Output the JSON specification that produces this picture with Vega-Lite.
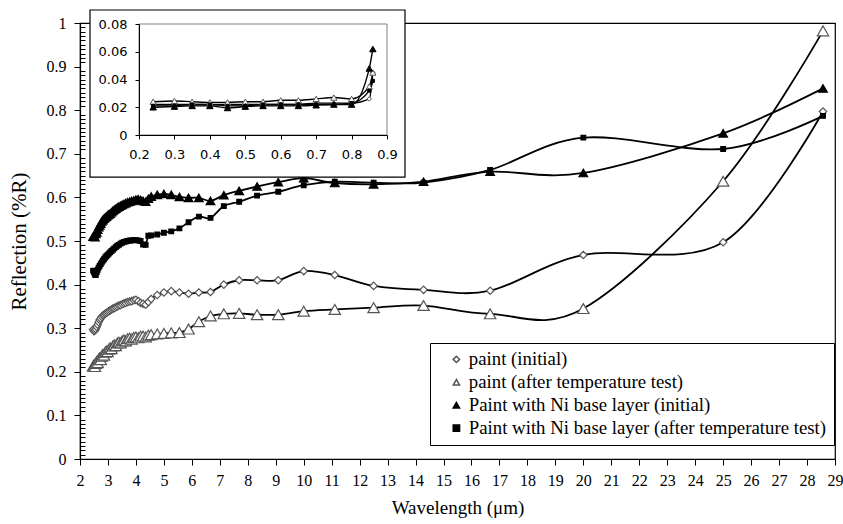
{
"$schema": "https://vega.github.io/schema/vega-lite/v6.json",
"width": 755, "height": 436,
"autosize": {"type": "none"},
"padding": {"left": 80, "top": 23, "right": 8, "bottom": 65},
"background": "white",
"config": {
  "view": {"stroke": "black", "strokeWidth": 1.2},
  "axis": {"domainColor": "black", "tickColor": "black", "labelColor": "black", "titleColor": "black", "grid": false, "domainWidth": 1.2, "tickWidth": 1}
},
"datasets": {
"main": [
{"s":"paint (initial)","w":2.469,"R":0.297},{"s":"paint (initial)","w":2.5,"R":0.293},{"s":"paint (initial)","w":2.532,"R":0.295},{"s":"paint (initial)","w":2.564,"R":0.298},{"s":"paint (initial)","w":2.597,"R":0.303},{"s":"paint (initial)","w":2.632,"R":0.308},{"s":"paint (initial)","w":2.667,"R":0.314},{"s":"paint (initial)","w":2.703,"R":0.319},{"s":"paint (initial)","w":2.74,"R":0.322},{"s":"paint (initial)","w":2.778,"R":0.326},{"s":"paint (initial)","w":2.817,"R":0.329},{"s":"paint (initial)","w":2.857,"R":0.331},{"s":"paint (initial)","w":2.899,"R":0.333},{"s":"paint (initial)","w":2.941,"R":0.335},{"s":"paint (initial)","w":2.985,"R":0.337},{"s":"paint (initial)","w":3.03,"R":0.339},{"s":"paint (initial)","w":3.077,"R":0.341},{"s":"paint (initial)","w":3.125,"R":0.343},{"s":"paint (initial)","w":3.175,"R":0.345},{"s":"paint (initial)","w":3.226,"R":0.346},{"s":"paint (initial)","w":3.279,"R":0.348},{"s":"paint (initial)","w":3.333,"R":0.35},{"s":"paint (initial)","w":3.39,"R":0.352},{"s":"paint (initial)","w":3.448,"R":0.353},{"s":"paint (initial)","w":3.509,"R":0.355},{"s":"paint (initial)","w":3.571,"R":0.357},{"s":"paint (initial)","w":3.636,"R":0.358},{"s":"paint (initial)","w":3.704,"R":0.36},{"s":"paint (initial)","w":3.774,"R":0.361},{"s":"paint (initial)","w":3.846,"R":0.362},{"s":"paint (initial)","w":3.922,"R":0.364},{"s":"paint (initial)","w":4.0,"R":0.365},{"s":"paint (initial)","w":4.082,"R":0.362},{"s":"paint (initial)","w":4.167,"R":0.358},{"s":"paint (initial)","w":4.255,"R":0.356},{"s":"paint (initial)","w":4.348,"R":0.354},{"s":"paint (initial)","w":4.444,"R":0.36},{"s":"paint (initial)","w":4.545,"R":0.367},{"s":"paint (initial)","w":4.762,"R":0.376},{"s":"paint (initial)","w":5.0,"R":0.382},{"s":"paint (initial)","w":5.263,"R":0.385},{"s":"paint (initial)","w":5.556,"R":0.382},{"s":"paint (initial)","w":5.882,"R":0.379},{"s":"paint (initial)","w":6.25,"R":0.382},{"s":"paint (initial)","w":6.667,"R":0.383},{"s":"paint (initial)","w":7.143,"R":0.4},{"s":"paint (initial)","w":7.692,"R":0.41},{"s":"paint (initial)","w":8.333,"R":0.41},{"s":"paint (initial)","w":9.091,"R":0.41},{"s":"paint (initial)","w":10,"R":0.431},{"s":"paint (initial)","w":11.111,"R":0.422},{"s":"paint (initial)","w":12.5,"R":0.397},{"s":"paint (initial)","w":14.286,"R":0.388},{"s":"paint (initial)","w":16.667,"R":0.386},{"s":"paint (initial)","w":20,"R":0.468},{"s":"paint (initial)","w":25,"R":0.497},{"s":"paint (initial)","w":28.571,"R":0.797},
{"s":"paint (after temperature test)","w":2.469,"R":0.213},{"s":"paint (after temperature test)","w":2.5,"R":0.216},{"s":"paint (after temperature test)","w":2.532,"R":0.212},{"s":"paint (after temperature test)","w":2.564,"R":0.219},{"s":"paint (after temperature test)","w":2.597,"R":0.224},{"s":"paint (after temperature test)","w":2.632,"R":0.221},{"s":"paint (after temperature test)","w":2.667,"R":0.229},{"s":"paint (after temperature test)","w":2.703,"R":0.232},{"s":"paint (after temperature test)","w":2.74,"R":0.228},{"s":"paint (after temperature test)","w":2.778,"R":0.236},{"s":"paint (after temperature test)","w":2.817,"R":0.24},{"s":"paint (after temperature test)","w":2.857,"R":0.238},{"s":"paint (after temperature test)","w":2.899,"R":0.245},{"s":"paint (after temperature test)","w":2.941,"R":0.248},{"s":"paint (after temperature test)","w":2.985,"R":0.246},{"s":"paint (after temperature test)","w":3.03,"R":0.252},{"s":"paint (after temperature test)","w":3.077,"R":0.255},{"s":"paint (after temperature test)","w":3.125,"R":0.253},{"s":"paint (after temperature test)","w":3.175,"R":0.259},{"s":"paint (after temperature test)","w":3.226,"R":0.262},{"s":"paint (after temperature test)","w":3.279,"R":0.26},{"s":"paint (after temperature test)","w":3.333,"R":0.266},{"s":"paint (after temperature test)","w":3.39,"R":0.268},{"s":"paint (after temperature test)","w":3.448,"R":0.266},{"s":"paint (after temperature test)","w":3.509,"R":0.271},{"s":"paint (after temperature test)","w":3.571,"R":0.273},{"s":"paint (after temperature test)","w":3.636,"R":0.271},{"s":"paint (after temperature test)","w":3.704,"R":0.276},{"s":"paint (after temperature test)","w":3.774,"R":0.277},{"s":"paint (after temperature test)","w":3.846,"R":0.275},{"s":"paint (after temperature test)","w":3.922,"R":0.279},{"s":"paint (after temperature test)","w":4.0,"R":0.28},{"s":"paint (after temperature test)","w":4.082,"R":0.278},{"s":"paint (after temperature test)","w":4.167,"R":0.282},{"s":"paint (after temperature test)","w":4.255,"R":0.282},{"s":"paint (after temperature test)","w":4.348,"R":0.28},{"s":"paint (after temperature test)","w":4.444,"R":0.284},{"s":"paint (after temperature test)","w":4.545,"R":0.285},{"s":"paint (after temperature test)","w":4.762,"R":0.287},{"s":"paint (after temperature test)","w":5.0,"R":0.288},{"s":"paint (after temperature test)","w":5.263,"R":0.289},{"s":"paint (after temperature test)","w":5.556,"R":0.29},{"s":"paint (after temperature test)","w":5.882,"R":0.298},{"s":"paint (after temperature test)","w":6.25,"R":0.315},{"s":"paint (after temperature test)","w":6.667,"R":0.328},{"s":"paint (after temperature test)","w":7.143,"R":0.333},{"s":"paint (after temperature test)","w":7.692,"R":0.334},{"s":"paint (after temperature test)","w":8.333,"R":0.331},{"s":"paint (after temperature test)","w":9.091,"R":0.331},{"s":"paint (after temperature test)","w":10,"R":0.339},{"s":"paint (after temperature test)","w":11.111,"R":0.343},{"s":"paint (after temperature test)","w":12.5,"R":0.347},{"s":"paint (after temperature test)","w":14.286,"R":0.352},{"s":"paint (after temperature test)","w":16.667,"R":0.333},{"s":"paint (after temperature test)","w":20,"R":0.345},{"s":"paint (after temperature test)","w":25,"R":0.637},{"s":"paint (after temperature test)","w":28.571,"R":0.982},
{"s":"Paint with Ni base layer (initial)","w":2.469,"R":0.51},{"s":"Paint with Ni base layer (initial)","w":2.5,"R":0.512},{"s":"Paint with Ni base layer (initial)","w":2.532,"R":0.509},{"s":"Paint with Ni base layer (initial)","w":2.564,"R":0.516},{"s":"Paint with Ni base layer (initial)","w":2.597,"R":0.52},{"s":"Paint with Ni base layer (initial)","w":2.632,"R":0.526},{"s":"Paint with Ni base layer (initial)","w":2.667,"R":0.532},{"s":"Paint with Ni base layer (initial)","w":2.703,"R":0.536},{"s":"Paint with Ni base layer (initial)","w":2.74,"R":0.54},{"s":"Paint with Ni base layer (initial)","w":2.778,"R":0.545},{"s":"Paint with Ni base layer (initial)","w":2.817,"R":0.548},{"s":"Paint with Ni base layer (initial)","w":2.857,"R":0.551},{"s":"Paint with Ni base layer (initial)","w":2.899,"R":0.554},{"s":"Paint with Ni base layer (initial)","w":2.941,"R":0.556},{"s":"Paint with Ni base layer (initial)","w":2.985,"R":0.559},{"s":"Paint with Ni base layer (initial)","w":3.03,"R":0.561},{"s":"Paint with Ni base layer (initial)","w":3.077,"R":0.563},{"s":"Paint with Ni base layer (initial)","w":3.125,"R":0.566},{"s":"Paint with Ni base layer (initial)","w":3.175,"R":0.569},{"s":"Paint with Ni base layer (initial)","w":3.226,"R":0.572},{"s":"Paint with Ni base layer (initial)","w":3.279,"R":0.574},{"s":"Paint with Ni base layer (initial)","w":3.333,"R":0.577},{"s":"Paint with Ni base layer (initial)","w":3.39,"R":0.579},{"s":"Paint with Ni base layer (initial)","w":3.448,"R":0.581},{"s":"Paint with Ni base layer (initial)","w":3.509,"R":0.583},{"s":"Paint with Ni base layer (initial)","w":3.571,"R":0.585},{"s":"Paint with Ni base layer (initial)","w":3.636,"R":0.587},{"s":"Paint with Ni base layer (initial)","w":3.704,"R":0.589},{"s":"Paint with Ni base layer (initial)","w":3.774,"R":0.59},{"s":"Paint with Ni base layer (initial)","w":3.846,"R":0.592},{"s":"Paint with Ni base layer (initial)","w":3.922,"R":0.593},{"s":"Paint with Ni base layer (initial)","w":4.0,"R":0.595},{"s":"Paint with Ni base layer (initial)","w":4.082,"R":0.596},{"s":"Paint with Ni base layer (initial)","w":4.167,"R":0.594},{"s":"Paint with Ni base layer (initial)","w":4.255,"R":0.592},{"s":"Paint with Ni base layer (initial)","w":4.348,"R":0.59},{"s":"Paint with Ni base layer (initial)","w":4.444,"R":0.597},{"s":"Paint with Ni base layer (initial)","w":4.545,"R":0.602},{"s":"Paint with Ni base layer (initial)","w":4.762,"R":0.606},{"s":"Paint with Ni base layer (initial)","w":5.0,"R":0.608},{"s":"Paint with Ni base layer (initial)","w":5.263,"R":0.606},{"s":"Paint with Ni base layer (initial)","w":5.556,"R":0.601},{"s":"Paint with Ni base layer (initial)","w":5.882,"R":0.599},{"s":"Paint with Ni base layer (initial)","w":6.25,"R":0.599},{"s":"Paint with Ni base layer (initial)","w":6.667,"R":0.592},{"s":"Paint with Ni base layer (initial)","w":7.143,"R":0.605},{"s":"Paint with Ni base layer (initial)","w":7.692,"R":0.615},{"s":"Paint with Ni base layer (initial)","w":8.333,"R":0.625},{"s":"Paint with Ni base layer (initial)","w":9.091,"R":0.635},{"s":"Paint with Ni base layer (initial)","w":10,"R":0.644},{"s":"Paint with Ni base layer (initial)","w":11.111,"R":0.633},{"s":"Paint with Ni base layer (initial)","w":12.5,"R":0.63},{"s":"Paint with Ni base layer (initial)","w":14.286,"R":0.636},{"s":"Paint with Ni base layer (initial)","w":16.667,"R":0.659},{"s":"Paint with Ni base layer (initial)","w":20,"R":0.656},{"s":"Paint with Ni base layer (initial)","w":25,"R":0.747},{"s":"Paint with Ni base layer (initial)","w":28.571,"R":0.85},
{"s":"Paint with Ni base layer (after temperature test)","w":2.469,"R":0.432},{"s":"Paint with Ni base layer (after temperature test)","w":2.5,"R":0.428},{"s":"Paint with Ni base layer (after temperature test)","w":2.532,"R":0.423},{"s":"Paint with Ni base layer (after temperature test)","w":2.564,"R":0.422},{"s":"Paint with Ni base layer (after temperature test)","w":2.597,"R":0.428},{"s":"Paint with Ni base layer (after temperature test)","w":2.632,"R":0.434},{"s":"Paint with Ni base layer (after temperature test)","w":2.667,"R":0.439},{"s":"Paint with Ni base layer (after temperature test)","w":2.703,"R":0.443},{"s":"Paint with Ni base layer (after temperature test)","w":2.74,"R":0.447},{"s":"Paint with Ni base layer (after temperature test)","w":2.778,"R":0.451},{"s":"Paint with Ni base layer (after temperature test)","w":2.817,"R":0.455},{"s":"Paint with Ni base layer (after temperature test)","w":2.857,"R":0.458},{"s":"Paint with Ni base layer (after temperature test)","w":2.899,"R":0.462},{"s":"Paint with Ni base layer (after temperature test)","w":2.941,"R":0.465},{"s":"Paint with Ni base layer (after temperature test)","w":2.985,"R":0.468},{"s":"Paint with Ni base layer (after temperature test)","w":3.03,"R":0.471},{"s":"Paint with Ni base layer (after temperature test)","w":3.077,"R":0.474},{"s":"Paint with Ni base layer (after temperature test)","w":3.125,"R":0.477},{"s":"Paint with Ni base layer (after temperature test)","w":3.175,"R":0.48},{"s":"Paint with Ni base layer (after temperature test)","w":3.226,"R":0.483},{"s":"Paint with Ni base layer (after temperature test)","w":3.279,"R":0.486},{"s":"Paint with Ni base layer (after temperature test)","w":3.333,"R":0.489},{"s":"Paint with Ni base layer (after temperature test)","w":3.39,"R":0.491},{"s":"Paint with Ni base layer (after temperature test)","w":3.448,"R":0.494},{"s":"Paint with Ni base layer (after temperature test)","w":3.509,"R":0.496},{"s":"Paint with Ni base layer (after temperature test)","w":3.571,"R":0.498},{"s":"Paint with Ni base layer (after temperature test)","w":3.636,"R":0.499},{"s":"Paint with Ni base layer (after temperature test)","w":3.704,"R":0.5},{"s":"Paint with Ni base layer (after temperature test)","w":3.774,"R":0.501},{"s":"Paint with Ni base layer (after temperature test)","w":3.846,"R":0.501},{"s":"Paint with Ni base layer (after temperature test)","w":3.922,"R":0.502},{"s":"Paint with Ni base layer (after temperature test)","w":4.0,"R":0.502},{"s":"Paint with Ni base layer (after temperature test)","w":4.082,"R":0.501},{"s":"Paint with Ni base layer (after temperature test)","w":4.167,"R":0.5},{"s":"Paint with Ni base layer (after temperature test)","w":4.255,"R":0.492},{"s":"Paint with Ni base layer (after temperature test)","w":4.348,"R":0.491},{"s":"Paint with Ni base layer (after temperature test)","w":4.444,"R":0.512},{"s":"Paint with Ni base layer (after temperature test)","w":4.545,"R":0.513},{"s":"Paint with Ni base layer (after temperature test)","w":4.762,"R":0.515},{"s":"Paint with Ni base layer (after temperature test)","w":5.0,"R":0.519},{"s":"Paint with Ni base layer (after temperature test)","w":5.263,"R":0.522},{"s":"Paint with Ni base layer (after temperature test)","w":5.556,"R":0.529},{"s":"Paint with Ni base layer (after temperature test)","w":5.882,"R":0.543},{"s":"Paint with Ni base layer (after temperature test)","w":6.25,"R":0.556},{"s":"Paint with Ni base layer (after temperature test)","w":6.667,"R":0.553},{"s":"Paint with Ni base layer (after temperature test)","w":7.143,"R":0.58},{"s":"Paint with Ni base layer (after temperature test)","w":7.692,"R":0.59},{"s":"Paint with Ni base layer (after temperature test)","w":8.333,"R":0.604},{"s":"Paint with Ni base layer (after temperature test)","w":9.091,"R":0.613},{"s":"Paint with Ni base layer (after temperature test)","w":10,"R":0.628},{"s":"Paint with Ni base layer (after temperature test)","w":11.111,"R":0.636},{"s":"Paint with Ni base layer (after temperature test)","w":12.5,"R":0.634},{"s":"Paint with Ni base layer (after temperature test)","w":14.286,"R":0.634},{"s":"Paint with Ni base layer (after temperature test)","w":16.667,"R":0.663},{"s":"Paint with Ni base layer (after temperature test)","w":20,"R":0.737},{"s":"Paint with Ni base layer (after temperature test)","w":25,"R":0.711},{"s":"Paint with Ni base layer (after temperature test)","w":28.571,"R":0.787}
],
"inset": [
{"s":"paint (initial)","ix":0.24,"iR":0.022},{"s":"paint (initial)","ix":0.3,"iR":0.022},{"s":"paint (initial)","ix":0.35,"iR":0.022},{"s":"paint (initial)","ix":0.4,"iR":0.022},{"s":"paint (initial)","ix":0.45,"iR":0.022},{"s":"paint (initial)","ix":0.5,"iR":0.022},{"s":"paint (initial)","ix":0.55,"iR":0.022},{"s":"paint (initial)","ix":0.6,"iR":0.022},{"s":"paint (initial)","ix":0.65,"iR":0.022},{"s":"paint (initial)","ix":0.7,"iR":0.023},{"s":"paint (initial)","ix":0.75,"iR":0.023},{"s":"paint (initial)","ix":0.8,"iR":0.023},{"s":"paint (initial)","ix":0.85,"iR":0.026},{"s":"paint (initial)","ix":0.86,"iR":0.045},
{"s":"paint (after temperature test)","ix":0.24,"iR":0.024},{"s":"paint (after temperature test)","ix":0.3,"iR":0.0245},{"s":"paint (after temperature test)","ix":0.35,"iR":0.024},{"s":"paint (after temperature test)","ix":0.4,"iR":0.0235},{"s":"paint (after temperature test)","ix":0.45,"iR":0.0235},{"s":"paint (after temperature test)","ix":0.5,"iR":0.024},{"s":"paint (after temperature test)","ix":0.55,"iR":0.024},{"s":"paint (after temperature test)","ix":0.6,"iR":0.025},{"s":"paint (after temperature test)","ix":0.65,"iR":0.025},{"s":"paint (after temperature test)","ix":0.7,"iR":0.026},{"s":"paint (after temperature test)","ix":0.75,"iR":0.027},{"s":"paint (after temperature test)","ix":0.8,"iR":0.026},{"s":"paint (after temperature test)","ix":0.85,"iR":0.035},{"s":"paint (after temperature test)","ix":0.86,"iR":0.045},
{"s":"Paint with Ni base layer (initial)","ix":0.24,"iR":0.02},{"s":"Paint with Ni base layer (initial)","ix":0.3,"iR":0.0205},{"s":"Paint with Ni base layer (initial)","ix":0.35,"iR":0.021},{"s":"Paint with Ni base layer (initial)","ix":0.4,"iR":0.021},{"s":"Paint with Ni base layer (initial)","ix":0.45,"iR":0.0195},{"s":"Paint with Ni base layer (initial)","ix":0.5,"iR":0.0205},{"s":"Paint with Ni base layer (initial)","ix":0.55,"iR":0.021},{"s":"Paint with Ni base layer (initial)","ix":0.6,"iR":0.021},{"s":"Paint with Ni base layer (initial)","ix":0.65,"iR":0.021},{"s":"Paint with Ni base layer (initial)","ix":0.7,"iR":0.0215},{"s":"Paint with Ni base layer (initial)","ix":0.75,"iR":0.022},{"s":"Paint with Ni base layer (initial)","ix":0.8,"iR":0.022},{"s":"Paint with Ni base layer (initial)","ix":0.85,"iR":0.048},{"s":"Paint with Ni base layer (initial)","ix":0.86,"iR":0.062},
{"s":"Paint with Ni base layer (after temperature test)","ix":0.24,"iR":0.021},{"s":"Paint with Ni base layer (after temperature test)","ix":0.3,"iR":0.021},{"s":"Paint with Ni base layer (after temperature test)","ix":0.35,"iR":0.022},{"s":"Paint with Ni base layer (after temperature test)","ix":0.4,"iR":0.022},{"s":"Paint with Ni base layer (after temperature test)","ix":0.45,"iR":0.021},{"s":"Paint with Ni base layer (after temperature test)","ix":0.5,"iR":0.021},{"s":"Paint with Ni base layer (after temperature test)","ix":0.55,"iR":0.022},{"s":"Paint with Ni base layer (after temperature test)","ix":0.6,"iR":0.022},{"s":"Paint with Ni base layer (after temperature test)","ix":0.65,"iR":0.022},{"s":"Paint with Ni base layer (after temperature test)","ix":0.7,"iR":0.022},{"s":"Paint with Ni base layer (after temperature test)","ix":0.75,"iR":0.022},{"s":"Paint with Ni base layer (after temperature test)","ix":0.8,"iR":0.023},{"s":"Paint with Ni base layer (after temperature test)","ix":0.85,"iR":0.032},{"s":"Paint with Ni base layer (after temperature test)","ix":0.86,"iR":0.039}
]
},
"layer": [
{
  "data": {"name": "main"},
  "mark": {"type": "line", "interpolate": "cardinal", "color": "black", "strokeWidth": 1.8},
  "encoding": {
    "x": {"field": "w", "type": "quantitative",
      "scale": {"domain": [2, 29], "nice": false, "zero": false},
      "axis": {"orient": "bottom", "values": [2,3,4,5,6,7,8,9,10,11,12,13,14,15,16,17,18,19,20,21,22,23,24,25,26,27,28,29],
        "title": "Wavelength (μm)", "tickSize": 6, "labelFont": "Liberation Serif", "labelFontSize": 16,
        "titleFont": "Liberation Serif", "titleFontSize": 19, "titleFontWeight": "normal",
        "labelPadding": 7, "titlePadding": 10, "labelAngle": 0, "labelFlush": false, "labelOverlap": false}},
    "y": {"field": "R", "type": "quantitative",
      "scale": {"domain": [0, 1], "nice": false, "zero": false},
      "axis": {"orient": "left", "values": [0,0.01,0.02,0.03,0.04,0.05,0.06,0.07,0.08,0.09,0.1,0.11,0.12,0.13,0.14,0.15,0.16,0.17,0.18,0.19,0.2,0.21,0.22,0.23,0.24,0.25,0.26,0.27,0.28,0.29,0.3,0.31,0.32,0.33,0.34,0.35,0.36,0.37,0.38,0.39,0.4,0.41,0.42,0.43,0.44,0.45,0.46,0.47,0.48,0.49,0.5,0.51,0.52,0.53,0.54,0.55,0.56,0.57,0.58,0.59,0.6,0.61,0.62,0.63,0.64,0.65,0.66,0.67,0.68,0.69,0.7,0.71,0.72,0.73,0.74,0.75,0.76,0.77,0.78,0.79,0.8,0.81,0.82,0.83,0.84,0.85,0.86,0.87,0.88,0.89,0.9,0.91,0.92,0.93,0.94,0.95,0.96,0.97,0.98,0.99,1],
        "labelExpr": "abs(datum.value*10 - round(datum.value*10)) < 0.001 ? (datum.value == 0 ? '0' : (datum.value == 1 ? '1' : format(datum.value, '.1f'))) : ''",
        "tickSize": {"condition": {"test": "abs(datum.value*10 - round(datum.value*10)) < 0.001", "value": 6}, "value": -5},
        "title": "Reflection (%R)", "labelFont": "Liberation Serif", "labelFontSize": 16,
        "titleFont": "Liberation Serif", "titleFontSize": 21, "titleFontWeight": "normal",
        "labelPadding": 8, "titlePadding": 17, "labelOverlap": false, "labelFlush": false}},
    "detail": {"field": "s", "type": "nominal"}
  }
},
{
  "data": {"name": "main"},
  "mark": {"type": "point", "filled": true, "opacity": 1, "strokeWidth": 1.2},
  "encoding": {
    "x": {"field": "w", "type": "quantitative", "scale": {"domain": [2, 29], "nice": false, "zero": false}, "axis": null},
    "y": {"field": "R", "type": "quantitative", "scale": {"domain": [0, 1], "nice": false, "zero": false}, "axis": null},
    "shape": {"field": "s", "type": "nominal",
      "scale": {"domain": ["paint (initial)","paint (after temperature test)","Paint with Ni base layer (initial)","Paint with Ni base layer (after temperature test)"], "range": ["diamond","triangle-up","triangle-up","square"]},
      "legend": {"title": null, "orient": "none", "legendX": 350, "legendY": 320,
        "strokeColor": "black", "fillColor": "white", "padding": 7,
        "labelFont": "Liberation Serif", "labelFontSize": 18.8, "labelColor": "black", "labelLimit": 500,
        "symbolSize": 40, "symbolOffset": 10, "labelOffset": 3, "rowPadding": 2.9}},
    "fill": {"field": "s", "type": "nominal",
      "scale": {"domain": ["paint (initial)","paint (after temperature test)","Paint with Ni base layer (initial)","Paint with Ni base layer (after temperature test)"], "range": ["white","white","black","black"]}, "legend": null},
    "stroke": {"field": "s", "type": "nominal",
      "scale": {"domain": ["paint (initial)","paint (after temperature test)","Paint with Ni base layer (initial)","Paint with Ni base layer (after temperature test)"], "range": ["#555555","#555555","black","black"]}, "legend": null},
    "size": {"field": "s", "type": "nominal",
      "scale": {"type": "ordinal", "domain": ["paint (initial)","paint (after temperature test)","Paint with Ni base layer (initial)","Paint with Ni base layer (after temperature test)"], "range": [55,130,75,22]}, "legend": null}
  }
},
{
  "data": {"values": [{}]},
  "mark": {"type": "rect", "fill": "white", "stroke": "black", "strokeWidth": 1.2},
  "encoding": {
    "x": {"datum": 0.0617, "type": "quantitative", "scale": {"domain": [0.2, 0.9], "range": [59, 307], "nice": false, "zero": false}, "axis": null},
    "x2": {"datum": 0.9508},
    "y": {"datum": 0.0901, "type": "quantitative", "scale": {"domain": [0, 0.08], "range": [112, 1], "nice": false, "zero": false}, "axis": null},
    "y2": {"datum": -0.0303}
  }
},
{
  "data": {"values": [{}]},
  "mark": {"type": "rect", "fillOpacity": 0, "stroke": "#808080", "strokeWidth": 1},
  "encoding": {
    "x": {"datum": 0.2, "type": "quantitative", "scale": {"domain": [0.2, 0.9], "range": [59, 307], "nice": false, "zero": false}, "axis": null},
    "x2": {"datum": 0.9},
    "y": {"datum": 0, "type": "quantitative", "scale": {"domain": [0, 0.08], "range": [112, 1], "nice": false, "zero": false}, "axis": null},
    "y2": {"datum": 0.08}
  }
},
{
  "data": {"name": "inset"},
  "mark": {"type": "line", "interpolate": "monotone", "color": "black", "strokeWidth": 1.4},
  "encoding": {
    "x": {"field": "ix", "type": "quantitative", "scale": {"domain": [0.2, 0.9], "range": [59, 307], "nice": false, "zero": false},
      "axis": {"orient": "bottom", "offset": -324, "zindex": 2, "values": [0.2,0.3,0.4,0.5,0.6,0.7,0.8,0.9], "format": ".1f", "title": null,
        "tickSize": 4, "labelFont": "DejaVu Sans", "labelFontSize": 13, "labelPadding": 9, "labelFlush": false, "labelAngle": 0, "labelOverlap": false, "domainWidth": 1}},
    "y": {"field": "iR", "type": "quantitative", "scale": {"domain": [0, 0.08], "range": [112, 1], "nice": false, "zero": false},
      "axis": {"orient": "left", "offset": -59, "zindex": 2, "values": [0,0.02,0.04,0.06,0.08], "labelExpr": "datum.value == 0 ? '0' : format(datum.value, '.2f')", "title": null,
        "tickSize": 4, "labelFont": "DejaVu Sans", "labelFontSize": 13, "labelPadding": 8, "labelFlush": false, "labelOverlap": false, "domainWidth": 1}},
    "detail": {"field": "s", "type": "nominal"}
  }
},
{
  "data": {"name": "inset"},
  "mark": {"type": "point", "filled": true, "opacity": 1, "strokeWidth": 1},
  "encoding": {
    "x": {"field": "ix", "type": "quantitative", "scale": {"domain": [0.2, 0.9], "range": [59, 307], "nice": false, "zero": false}, "axis": null},
    "y": {"field": "iR", "type": "quantitative", "scale": {"domain": [0, 0.08], "range": [112, 1], "nice": false, "zero": false}, "axis": null},
    "shape": {"field": "s", "type": "nominal",
      "scale": {"domain": ["paint (initial)","paint (after temperature test)","Paint with Ni base layer (initial)","Paint with Ni base layer (after temperature test)"], "range": ["diamond","triangle-up","triangle-up","square"]}, "legend": null},
    "fill": {"field": "s", "type": "nominal",
      "scale": {"domain": ["paint (initial)","paint (after temperature test)","Paint with Ni base layer (initial)","Paint with Ni base layer (after temperature test)"], "range": ["white","white","black","black"]}, "legend": null},
    "stroke": {"field": "s", "type": "nominal",
      "scale": {"domain": ["paint (initial)","paint (after temperature test)","Paint with Ni base layer (initial)","Paint with Ni base layer (after temperature test)"], "range": ["#555555","#555555","black","black"]}, "legend": null},
    "size": {"field": "s", "type": "nominal",
      "scale": {"type": "ordinal", "domain": ["paint (initial)","paint (after temperature test)","Paint with Ni base layer (initial)","Paint with Ni base layer (after temperature test)"], "range": [20,38,42,10]}, "legend": null}
  }
}
],
"resolve": {
  "scale": {"x": "independent", "y": "independent", "size": "independent"},
  "axis": {"x": "independent", "y": "independent"}
}
}
